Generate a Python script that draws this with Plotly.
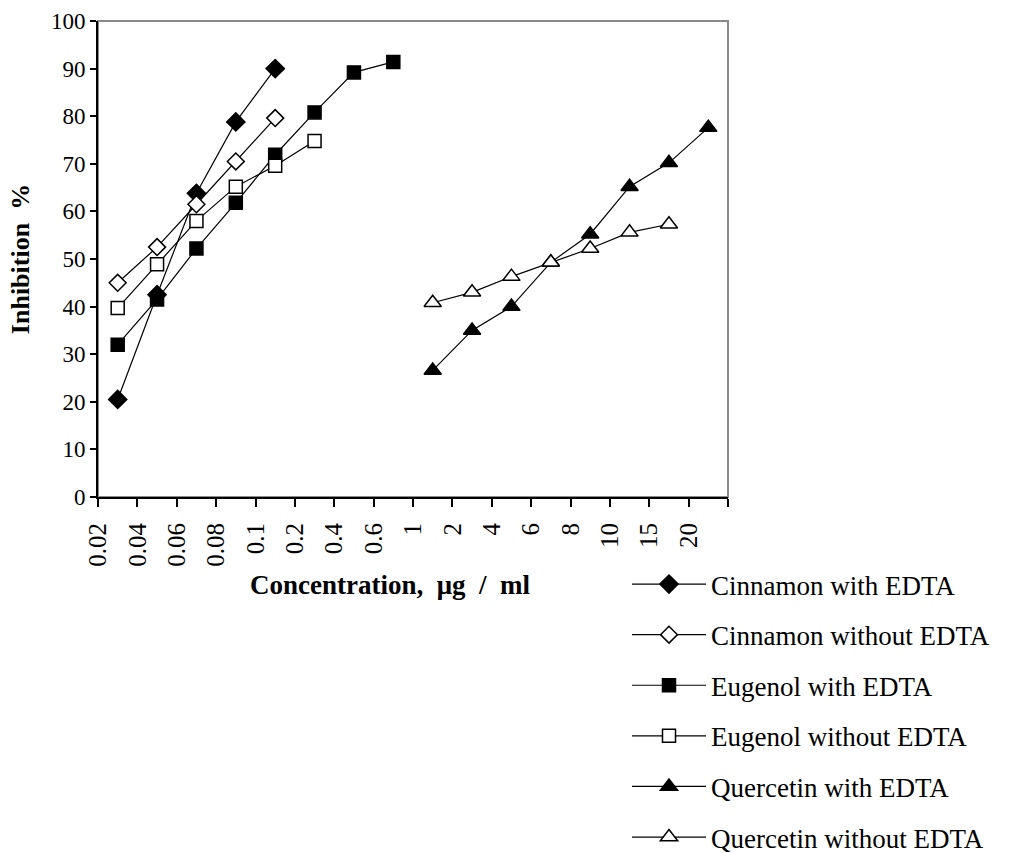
import plotly.graph_objects as go

categories = ["0.02", "0.04", "0.06", "0.08", "0.1", "0.2", "0.4", "0.6",
              "1", "2", "4", "6", "8", "10", "15", "20"]

cin_with_x = ["0.02", "0.04", "0.06", "0.08", "0.1"]
cin_with_y = [20.5, 42.5, 63.8, 78.8, 90.0]

cin_without_x = ["0.02", "0.04", "0.06", "0.08", "0.1"]
cin_without_y = [45.0, 52.5, 61.5, 70.5, 79.6]

eug_with_x = ["0.02", "0.04", "0.06", "0.08", "0.1", "0.2", "0.4", "0.6"]
eug_with_y = [32.0, 41.5, 52.2, 61.8, 71.9, 80.8, 89.2, 91.4]

eug_without_x = ["0.02", "0.04", "0.06", "0.08", "0.1", "0.2"]
eug_without_y = [39.7, 48.9, 58.0, 65.2, 69.6, 74.8]

que_with_x = ["1", "2", "4", "6", "8", "10", "15", "20"]
que_with_y = [26.6, 35.0, 40.0, 49.3, 55.2, 65.2, 70.2, 77.6]

que_without_x = ["1", "2", "4", "6", "8", "10", "15"]
que_without_y = [40.8, 43.0, 46.3, 49.3, 52.2, 55.6, 57.3]

y_ticks = list(range(0, 101, 10))

FONT = "Liberation Serif, Times New Roman, serif"


def pos(xs):
    return [categories.index(c) + 0.5 for c in xs]


series = [
    ("Cinnamon with EDTA", cin_with_x, cin_with_y, "diamond", "black", 14),
    ("Cinnamon without EDTA", cin_without_x, cin_without_y, "diamond", "white", 13),
    ("Eugenol with EDTA", eug_with_x, eug_with_y, "square", "black", 13),
    ("Eugenol without EDTA", eug_without_x, eug_without_y, "square", "white", 13),
    ("Quercetin with EDTA", que_with_x, que_with_y, "triangle-up", "black", 15),
    ("Quercetin without EDTA", que_without_x, que_without_y, "triangle-up", "white", 15),
]

fig = go.Figure()
for i, (name, xs, ys, sym, fill, size) in enumerate(series):
    fig.add_trace(go.Scatter(
        x=pos(xs), y=ys, name=name, mode="lines+markers",
        line=dict(color="black", width=1.2),
        marker=dict(symbol=sym, size=size, color=fill,
                    line=dict(color="black", width=1.5)),
        legendgroup="g%d" % i,
    ))

# grey frame (top/right) under black axis lines
fig.add_shape(type="rect", xref="paper", yref="paper", x0=0, y0=0, x1=1, y1=1,
              line=dict(color="#8a8a8a", width=2), layer="below")

# x-axis title (placed left of plot centre, as in the reference)
fig.add_annotation(
    text="<b>Concentration,  μg  /  ml</b>", xref="paper", yref="paper",
    x=(390 - 98) / 630, y=(497 - 585) / 476, xanchor="center", yanchor="middle",
    showarrow=False, font=dict(family=FONT, size=27, color="black"),
)

fig.update_layout(
    width=1020, height=853,
    margin=dict(l=98, r=292, t=21, b=356, autoexpand=False),
    paper_bgcolor="white", plot_bgcolor="white",
    font=dict(family=FONT, color="black", size=22),
    showlegend=True,
    legend=dict(
        xref="container", yref="container",
        x=627 / 1020, y=1 - 560 / 853, xanchor="left", yanchor="top",
        font=dict(family=FONT, size=27, color="black"),
        itemwidth=74, tracegroupgap=12.5, bgcolor="rgba(0,0,0,0)",
        traceorder="grouped",
    ),
    xaxis=dict(
        range=[0, 16], tickmode="array",
        tickvals=list(range(len(categories))), ticktext=categories,
        tickangle=-90, ticks="outside", ticklen=8, tickwidth=2, tickcolor="black",
        ticklabelstandoff=6,
        minor=dict(ticks="outside", tickmode="linear", tick0=0, dtick=1,
                   ticklen=8, tickwidth=2, tickcolor="black"),
        showline=True, linecolor="black", linewidth=2, showgrid=False,
        zeroline=False, tickfont=dict(family=FONT, size=25),
    ),
    yaxis=dict(
        range=[0, 100], tickmode="array", tickvals=y_ticks,
        ticks="outside", ticklen=6, tickwidth=2, tickcolor="black",
        showline=True, linecolor="black", linewidth=2, showgrid=False,
        zeroline=False, tickfont=dict(family=FONT, size=23),
        title=dict(text="<b>Inhibition  %</b>", standoff=14,
                   font=dict(family=FONT, size=26)),
    ),
)

fig.write_html("out.html")
